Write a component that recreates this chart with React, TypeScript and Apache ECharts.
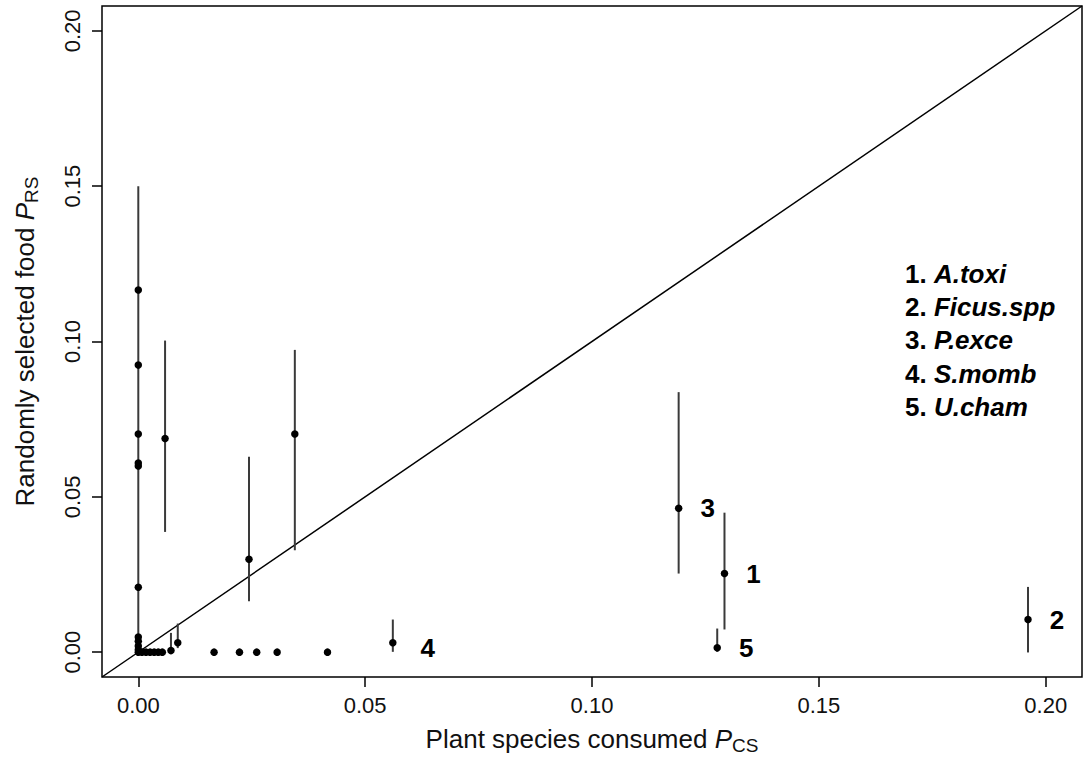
import React, { useEffect, useRef } from "react";
import * as echarts from "echarts";

// Plant species consumed (x), randomly selected food (y), error bar limits
const xValues = [
  0, 0, 0, 0, 0, 0, 0, 0, 0, 0, 0,
  0.0008, 0.0017, 0.0026, 0.0035, 0.0044, 0.0053,
  0.0072, 0.0087,
  0.0167, 0.0223, 0.0261, 0.0306, 0.0417,
  0.0059, 0.0244, 0.0345,
  0.0561, 0.1191, 0.1292, 0.1276, 0.1961,
];
const yValues = [
  0.1166, 0.0924, 0.0702, 0.0609, 0.0599, 0.0209, 0.0049, 0.0035, 0.002, 0.0008, 0,
  0, 0, 0, 0, 0, 0,
  0.0005, 0.003,
  0, 0, 0, 0, 0,
  0.0688, 0.0299, 0.0702,
  0.003, 0.0463, 0.0253, 0.0014, 0.0105,
];
const lowValues: (number | null)[] = [
  0, null, null, null, null, null, null, null, null, null, null,
  null, null, null, null, null, null,
  0.0005, 0.0013,
  null, null, null, null, null,
  0.0387, 0.0164, 0.0328,
  0.0001, 0.0253, 0.0073, 0.0001, -0.0001,
];
const highValues: (number | null)[] = [
  0.15, null, null, null, null, null, null, null, null, null, null,
  null, null, null, null, null, null,
  0.0062, 0.0092,
  null, null, null, null, null,
  0.1003, 0.0629, 0.0973,
  0.0105, 0.0837, 0.0449, 0.0076, 0.021,
];
const pointTags = [
  "", "", "", "", "", "", "", "", "", "", "",
  "", "", "", "", "", "",
  "", "",
  "", "", "", "", "",
  "", "", "",
  "4", "3", "1", "5", "2",
];

const tickValues = [0, 0.05, 0.1, 0.15, 0.2];
const axisMin = -0.008;
const axisMax = 0.208;
const diagonal = [
  [axisMin, axisMin],
  [axisMax, axisMax],
];

const legendNumbers = ["1.", "2.", "3.", "4.", "5."];
const legendSpecies = ["A.toxi", "Ficus.spp", "P.exce", "S.momb", "U.cham"];

const FONT = "'Liberation Sans', Arial, Helvetica, sans-serif";

export default function App() {
  const ref = useRef<HTMLDivElement>(null);

  useEffect(() => {
    if (!ref.current) return;
    const chart = echarts.init(ref.current, undefined, { renderer: "svg" });

    const points = xValues.map((x, i) => {
      const item: any = { value: [x, yValues[i]] };
      if (pointTags[i]) {
        item.label = {
          show: true,
          formatter: pointTags[i],
          position: "right",
          distance: pointTags[i] === "4" ? 24 : 18,
          offset: pointTags[i] === "4" ? [0, 5] : [0, 0],
          fontFamily: FONT,
          fontWeight: "bold",
          fontSize: 26,
          color: "#000",
          opacity: 1,
          textBorderWidth: 0,
        };
      }
      return item;
    });

    const bars = xValues
      .map((x, i) => [x, lowValues[i], highValues[i]])
      .filter((d) => d[1] !== null && d[2] !== null);

    const legendItems = legendNumbers.map((n, i) => ({
      type: "text",
      left: 905,
      top: 261 + i * 33.2,
      style: {
        text: `{n|${n} }{s|${legendSpecies[i]}}`,
        rich: {
          n: { fontFamily: FONT, fontWeight: "bold", fontSize: 26, fill: "#000" },
          s: {
            fontFamily: FONT,
            fontWeight: "bold",
            fontStyle: "italic",
            fontSize: 26,
            fill: "#000",
          },
        },
      },
    }));

    const axisCommon = {
      type: "value",
      min: axisMin,
      max: axisMax,
      axisLine: { show: false, onZero: false },
      splitLine: { show: false },
      axisTick: {
        show: true,
        length: 10,
        customValues: tickValues,
        lineStyle: { color: "#000", width: 1.5 },
      },
    };

    const option: any = {
      animation: false,
      backgroundColor: "#fff",
      grid: {
        left: 102,
        top: 6,
        right: 1,
        bottom: 88,
        show: true,
        borderColor: "#000",
        borderWidth: 1.5,
        backgroundColor: "transparent",
      },
      xAxis: {
        ...axisCommon,
        axisLabel: {
          customValues: tickValues,
          formatter: (v: number) => v.toFixed(2),
          fontFamily: FONT,
          fontSize: 22,
          color: "#111",
          margin: 17,
        },
        name: "{a|Plant species consumed }{b|P}{c|CS}",
        nameLocation: "middle",
        nameGap: 45,
        nameTextStyle: {
          rich: {
            a: { fontFamily: FONT, fontSize: 26, color: "#111" },
            b: { fontFamily: FONT, fontSize: 26, fontStyle: "italic", color: "#111" },
            c: { fontFamily: FONT, fontSize: 19, color: "#111", padding: [14, 0, 0, 0] },
          },
        },
      },
      yAxis: {
        ...axisCommon,
        axisLabel: {
          customValues: tickValues,
          formatter: (v: number) => v.toFixed(2),
          fontFamily: FONT,
          fontSize: 22,
          color: "#111",
          rotate: 90,
          margin: 19,
        },
        name: "{a|Randomly selected food }{b|P}{c|RS}",
        nameLocation: "middle",
        nameRotate: 90,
        nameGap: 61,
        nameTextStyle: {
          rich: {
            a: { fontFamily: FONT, fontSize: 26, color: "#111" },
            b: { fontFamily: FONT, fontSize: 26, fontStyle: "italic", color: "#111" },
            c: { fontFamily: FONT, fontSize: 19, color: "#111", padding: [14, 0, 0, 0] },
          },
        },
      },
      graphic: legendItems,
      series: [
        {
          type: "line",
          data: diagonal,
          symbol: "none",
          lineStyle: { color: "#000", width: 1.5 },
          silent: true,
          z: 1,
        },
        {
          type: "custom",
          data: bars,
          z: 2,
          renderItem: (params: any, api: any) => {
            const x = api.value(0);
            const p1 = api.coord([x, api.value(1)]);
            const p2 = api.coord([x, api.value(2)]);
            return {
              type: "line",
              shape: { x1: p1[0], y1: p1[1], x2: p2[0], y2: p2[1] },
              style: { stroke: "#3a3a3a", lineWidth: 2 },
            };
          },
        },
        {
          type: "scatter",
          data: points,
          symbol: "circle",
          symbolSize: 7.5,
          itemStyle: { color: "#000", opacity: 1 },
          z: 3,
        },
      ],
    };

    chart.setOption(option);
    return () => chart.dispose();
  }, []);

  return (
    <div
      ref={ref}
      style={{ position: "fixed", left: 0, top: 0, width: 1083, height: 765, background: "#fff" }}
    />
  );
}
